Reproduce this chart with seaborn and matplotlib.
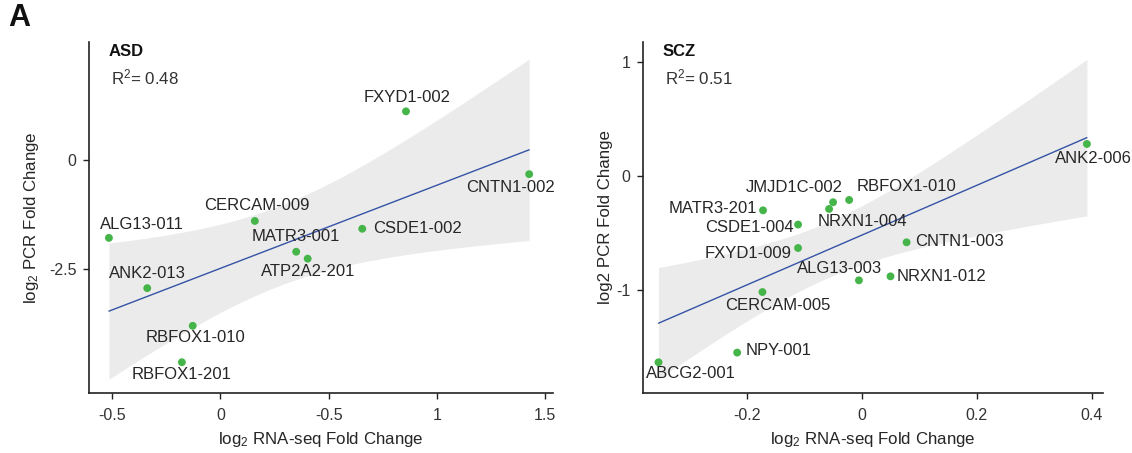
import numpy as np
import pandas as pd
import seaborn as sns
import matplotlib
matplotlib.use("Agg")
import matplotlib.pyplot as plt

# ---------------- data ----------------
asd_genes = ["ALG13-011", "CERCAM-009", "MATR3-001", "ATP2A2-201", "ANK2-013",
             "RBFOX1-010", "RBFOX1-201", "FXYD1-002", "CNTN1-002", "CSDE1-002"]
asd_rna = [-0.515, 0.159, 0.350, 0.403, -0.338, -0.128, -0.178, 0.857, 1.426, 0.655]
asd_pcr = [-1.79, -1.40, -2.11, -2.27, -2.95, -3.82, -4.66, 1.13, -0.32, -1.58]

scz_genes = ["MATR3-201", "JMJD1C-002", "NRXN1-004", "RBFOX1-010", "CSDE1-004",
             "FXYD1-009", "ALG13-003", "CERCAM-005", "NPY-001", "ABCG2-001",
             "CNTN1-003", "NRXN1-012", "ANK2-006"]
scz_rna = [-0.172, -0.050, -0.057, -0.022, -0.111, -0.111, -0.005, -0.173, -0.217,
           -0.354, 0.078, 0.050, 0.392]
scz_pcr = [-0.299, -0.228, -0.287, -0.208, -0.424, -0.630, -0.914, -1.017, -1.549,
           -1.634, -0.580, -0.879, 0.284]

asd_xticks = [-0.5, 0, 0.5, 1, 1.5]
asd_xticklabels = ["-0.5", "0", "-0.5", "1", "1.5"]
asd_yticks = [-2.5, 0]
asd_yticklabels = ["-2.5", "0"]
scz_xticks = [-0.2, 0, 0.2, 0.4]
scz_xticklabels = ["-0.2", "0", "0.2", "0.4"]
scz_yticks = [-1, 0, 1]
scz_yticklabels = ["-1", "0", "1"]

asd_r2 = "0.48"
scz_r2 = "0.51"

# label placement: (dx px, dy px, ha)
asd_label_pos = {
    "ALG13-011": (33, 13, "center"), "CERCAM-009": (2, 15, "center"),
    "MATR3-001": (0, 15, "center"), "ATP2A2-201": (0, -13, "center"),
    "ANK2-013": (0, 15, "center"), "RBFOX1-010": (3, -12, "center"),
    "RBFOX1-201": (0, -12, "center"), "FXYD1-002": (1, 14, "center"),
    "CNTN1-002": (-19, -13, "center"), "CSDE1-002": (11, 0, "left"),
}
scz_label_pos = {
    "MATR3-201": (-6, 2, "right"), "JMJD1C-002": (-39, 15, "center"),
    "NRXN1-004": (33, -13, "center"), "RBFOX1-010": (7, 13, "left"),
    "CSDE1-004": (-4, -3, "right"), "FXYD1-009": (-6, -5, "right"),
    "ALG13-003": (-19, 12, "center"), "CERCAM-005": (15, -13, "center"),
    "NPY-001": (8, 2, "left"), "ABCG2-001": (32, -11, "center"),
    "CNTN1-003": (9, 1, "left"), "NRXN1-012": (6, 0, "left"),
    "ANK2-006": (6, -15, "center"),
}

# ---------------- style ----------------
sns.set_theme(style="white")
plt.rcParams["font.family"] = ["Liberation Sans", "DejaVu Sans"]
plt.rcParams["mathtext.fontset"] = "custom"
plt.rcParams["mathtext.rm"] = "Liberation Sans"
plt.rcParams["mathtext.it"] = "Liberation Sans:italic"
plt.rcParams["mathtext.bf"] = "Liberation Sans:bold"

GREEN = "#45b549"
BLUE = "#3553a5"
BAND = "#ebebeb"
TXT = "#262626"

fig = plt.figure(figsize=(11.32, 4.53), dpi=100)
W, H = 1132, 453
ax1 = fig.add_axes([89 / W, 60 / H, 464 / W, 351 / H])
ax2 = fig.add_axes([643 / W, 60 / H, 460 / W, 351 / H])


def panel(ax, genes, rna, pcr, label_pos, title, r2, xlim, ylim,
          xt, xtl, yt, ytl, ylabel, ylabelpad):
    df = pd.DataFrame({"gene": genes, "rna": rna, "pcr": pcr})
    x = df["rna"].to_numpy()
    y = df["pcr"].to_numpy()
    # analytic 95% confidence band for the linear fit
    n = len(x)
    b, a = np.polyfit(x, y, 1)
    xs = np.linspace(x.min(), x.max(), 200)
    resid = y - (a + b * x)
    s = np.sqrt((resid ** 2).sum() / (n - 2))
    sxx = ((x - x.mean()) ** 2).sum()
    se = s * np.sqrt(1 / n + (xs - x.mean()) ** 2 / sxx)
    t = 2.306 if n == 10 else 2.201
    ax.fill_between(xs, a + b * xs - t * se, a + b * xs + t * se,
                    color=BAND, lw=0, zorder=0)
    sns.regplot(data=df, x="rna", y="pcr", ax=ax, ci=None,
                scatter_kws=dict(s=32, color=GREEN, edgecolors="none",
                                 alpha=1, zorder=3),
                line_kws=dict(color=BLUE, lw=1.0, zorder=2))
    for g, xv, yv in zip(genes, rna, pcr):
        dx, dy, ha = label_pos[g]
        ax.annotate(g, (xv, yv), xytext=(dx * 0.72, dy * 0.72),
                    textcoords="offset points", ha=ha, va="center",
                    fontsize=12, color=TXT, zorder=4)
    ax.set_xlim(*xlim)
    ax.set_ylim(*ylim)
    ax.set_xticks(xt)
    ax.set_xticklabels(xtl)
    ax.set_yticks(yt)
    ax.set_yticklabels(ytl)
    ax.set_xlabel(r"log$_2$ RNA-seq Fold Change", fontsize=12.2, color=TXT,
                  labelpad=5)
    ax.set_ylabel(ylabel, fontsize=12.2, color=TXT, labelpad=ylabelpad)
    for sp in ["top", "right"]:
        ax.spines[sp].set_visible(False)
    for sp in ["left", "bottom"]:
        ax.spines[sp].set_color("#222222")
        ax.spines[sp].set_linewidth(1.2)
    ax.tick_params(axis="both", which="both", direction="out", length=4,
                   width=1.0, color="#222222", labelsize=11.5,
                   labelcolor="#333333", pad=5, bottom=True, left=True)
    ax.tick_params(axis="x", pad=7)
    ax.text(0.043, 0.972, title, transform=ax.transAxes, fontsize=12,
            fontweight="bold", ha="left", va="center", color="#111111")
    ax.text(0.047, 0.900, r"R$^2$= " + r2, transform=ax.transAxes,
            fontsize=12.2, ha="left", va="center", color="#333333")


panel(ax1, asd_genes, asd_rna, asd_pcr, asd_label_pos, "ASD", asd_r2,
      (-0.607, 1.536), (-5.37, 2.73), asd_xticks, asd_xticklabels,
      asd_yticks, asd_yticklabels, r"log$_2$ PCR Fold Change", 6)
panel(ax2, scz_genes, scz_rna, scz_pcr, scz_label_pos, "SCZ", scz_r2,
      (-0.381, 0.42), (-1.904, 1.18), scz_xticks, scz_xticklabels,
      scz_yticks, scz_yticklabels, "log2 PCR Fold Change", 2)

fig.text(8 / W, 1 - 18 / H, "A", fontsize=22, fontweight="bold",
         ha="left", va="center", color="#111111")

fig.savefig("out.png", dpi=100)
